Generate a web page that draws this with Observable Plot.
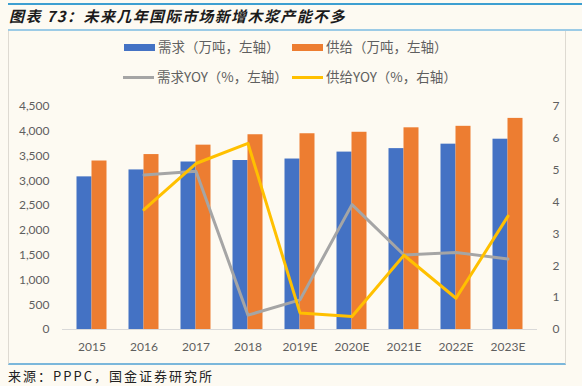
<!DOCTYPE html>
<html>
<head>
<meta charset="utf-8">
<script src="https://cdn.jsdelivr.net/npm/d3@7"></script>
<script src="https://cdn.jsdelivr.net/npm/@observablehq/plot@0.6"></script>
<style>
  html, body { margin: 0; padding: 0; }
  body { width: 582px; height: 386px; position: relative; overflow: hidden; background: #fdfaf2; font-family: "Noto Sans CJK SC", sans-serif; }
  .abs { position: absolute; }
  #topline { left: 8px; top: 3px; width: 574px; height: 2px; background: #3d9fd1; }
  #title { left: 9px; top: 5px; font-size: 15px; font-weight: bold; font-style: italic; color: #1b1b1b; letter-spacing: 1.4px; white-space: nowrap; }
  #subline { left: 8px; top: 29px; width: 574px; height: 2px; background: #9ccbe6; }
  #box { left: 8px; top: 31px; width: 556px; height: 332px; border-left: 1px solid #dedad2; border-right: 1px solid #dedad2; border-bottom: 2px solid #7bb7db; }
  .legtext { font-size: 13.5px; color: #5f5f5f; white-space: nowrap; line-height: 16px; }
  #footer { left: 8px; top: 366px; font-size: 13px; color: #222; white-space: nowrap; letter-spacing: 2px; }
  #chart { left: 0; top: 90px; }
</style>
</head>
<body>
<div id="topline" class="abs"></div>
<div id="title" class="abs">图表 73：未来几年国际市场新增木浆产能不多</div>
<div id="subline" class="abs"></div>
<div id="box" class="abs"></div>
<div id="legend"></div>
<div id="chart" class="abs"></div>
<div id="footer" class="abs">来源：PPPC，国金证券研究所</div>
<script>
// ---- data ----
const years = ["2015", "2016", "2017", "2018", "2019E", "2020E", "2021E", "2022E", "2023E"];
const demand = [3080, 3220, 3380, 3410, 3440, 3580, 3650, 3740, 3840];       // 万吨
const supply = [3400, 3530, 3720, 3930, 3950, 3980, 4070, 4100, 4260];       // 万吨
const demandYoy = [null, 4.85, 4.97, 0.45, 0.93, 3.92, 2.34, 2.42, 2.21];    // %
const supplyYoy = [null, 3.76, 5.21, 5.84, 0.52, 0.41, 2.33, 0.98, 3.56];    // %
const leftTicks = [0, 500, 1000, 1500, 2000, 2500, 3000, 3500, 4000, 4500];
const rightTicks = [0, 1, 2, 3, 4, 5, 6, 7];
const seriesNames = ["需求（万吨，左轴）", "供给（万吨，左轴）", "需求YOY（%，左轴）", "供给YOY（%，右轴）"];

const colors = { demand: "#4472c4", supply: "#ed7d31", dYoy: "#a5a5a5", sYoy: "#ffc000" };

// ---- legend (HTML) ----
const legend = document.getElementById("legend");
const legItems = [
  { name: seriesNames[0], color: colors.demand, kind: "rect", x: 124, y: 47 },
  { name: seriesNames[1], color: colors.supply, kind: "rect", x: 292, y: 47 },
  { name: seriesNames[2], color: colors.dYoy, kind: "line", x: 123, y: 77 },
  { name: seriesNames[3], color: colors.sYoy, kind: "line", x: 292, y: 77 }
];
for (const it of legItems) {
  const sw = document.createElement("div");
  sw.className = "abs";
  const h = it.kind === "rect" ? 7 : 3;
  sw.style.cssText = `left:${it.x}px;top:${it.y - h / 2}px;width:31px;height:${h}px;background:${it.color};`;
  legend.appendChild(sw);
  const t = document.createElement("div");
  t.className = "abs legtext";
  t.style.left = (it.x + 34) + "px";
  t.style.top = (it.y - 9) + "px";
  t.textContent = it.name;
  legend.appendChild(t);
}

// ---- chart ----
const yMax = 4500;
const k = yMax / 7; // right-axis (%) to left-axis units
const rows = years.map((yr, i) => ({ year: yr, demand: demand[i], supply: supply[i], dYoy: demandYoy[i], sYoy: supplyYoy[i] }));

const chart = Plot.plot({
  width: 582,
  height: 270,
  marginTop: 16,
  marginBottom: 31,
  marginLeft: 62,
  marginRight: 45,
  style: { background: "transparent", fontFamily: "Lato, sans-serif", fontSize: "12px", color: "#5f5f5f" },
  x: { type: "band", domain: years, paddingInner: 0.716, paddingOuter: 0.358, label: null },
  y: { domain: [0, yMax], label: null },
  marks: [
    Plot.barY(rows, { x: "year", y: "demand", fill: colors.demand, dx: -7.5 }),
    Plot.barY(rows, { x: "year", y: "supply", fill: colors.supply, dx: 7.5 }),
    Plot.ruleY([0], { stroke: "#d9d9d9", strokeWidth: 1.2 }),
    Plot.line(rows.filter(d => d.dYoy != null), { x: "year", y: d => d.dYoy * k, stroke: colors.dYoy, strokeWidth: 3, strokeLinejoin: "round" }),
    Plot.line(rows.filter(d => d.sYoy != null), { x: "year", y: d => d.sYoy * k, stroke: colors.sYoy, strokeWidth: 3, strokeLinejoin: "round" }),
    Plot.axisY({ anchor: "left", ticks: leftTicks, tickFormat: d3.format(","), tickSize: 0, tickPadding: 13, label: null }),
    Plot.axisY(rightTicks.map(v => v * k), { anchor: "right", tickFormat: d => String(Math.round(d / k)), tickSize: 0, tickPadding: 15, label: null }),
    Plot.axisX({ tickSize: 0, tickPadding: 13, label: null })
  ]
});
document.getElementById("chart").appendChild(chart);
</script>
</body>
</html>
